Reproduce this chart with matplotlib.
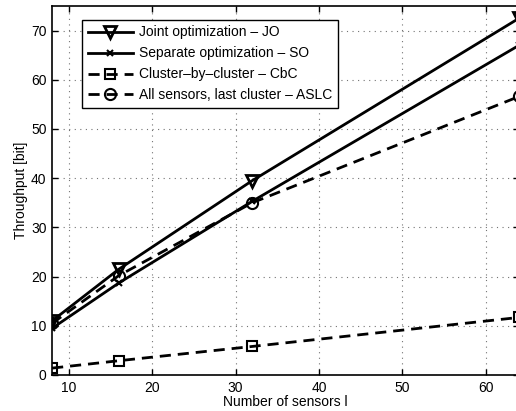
import matplotlib
matplotlib.use('Agg')
import matplotlib.pyplot as plt

plt.rcParams['font.family'] = ['Liberation Sans', 'DejaVu Sans']

# number of sensors
sensors = [8, 16, 32, 64]

# throughput [bit] for each scheme
jo = [11.0, 21.5, 39.5, 72.5]
so = [9.5, 18.7, 35.3, 67.0]
cbc = [1.4, 2.9, 5.8, 11.7]
aslc = [10.5, 20.2, 35.0, 56.6]

labels = ['Joint optimization \u2013 JO',
          'Separate optimization \u2013 SO',
          'Cluster\u2013by\u2013cluster \u2013 CbC',
          'All sensors, last cluster \u2013 ASLC']

fig = plt.figure(figsize=(5.16, 4.11), dpi=100)
ax = fig.add_axes([0.101, 0.0876, 0.905, 0.898])

dash = (4, 2.5)
ax.plot(sensors, jo, 'k-v', lw=2, ms=9, mfc='none', mew=2, label=labels[0])
ax.plot(sensors, so, 'k-x', lw=2, ms=5, mew=1.5, label=labels[1])
ax.plot(sensors, cbc, 'k--s', lw=2, ms=7, mfc='none', mew=1.5, dashes=dash, label=labels[2])
ax.plot(sensors, aslc, 'k--o', lw=2, ms=8, mfc='none', mew=1.5, dashes=dash, label=labels[3])

ax.set_xlim(8, 64)
ax.set_ylim(0, 75)
ax.set_xticks([10, 20, 30, 40, 50, 60])
ax.set_yticks([0, 10, 20, 30, 40, 50, 60, 70])
ax.tick_params(direction='in', labelsize=10, width=1, length=4, top=True, right=True, pad=4)
ax.grid(True, linestyle=(0, (1, 4)), color='0.45', linewidth=0.8)
for s in ax.spines.values():
    s.set_linewidth(1.2)

ax.set_xlabel('Number of sensors l', fontsize=10, labelpad=0)
ax.set_ylabel('Throughput [bit]', fontsize=10, labelpad=2)

leg = ax.legend(loc='upper left', bbox_to_anchor=(0.064, 0.962), borderaxespad=0,
                fontsize=10, handlelength=3.3, fancybox=False, framealpha=1,
                edgecolor='k', borderpad=0.4, labelspacing=0.5, handletextpad=0.4)
leg.get_frame().set_linewidth(1)

fig.savefig('out.png', dpi=100)
